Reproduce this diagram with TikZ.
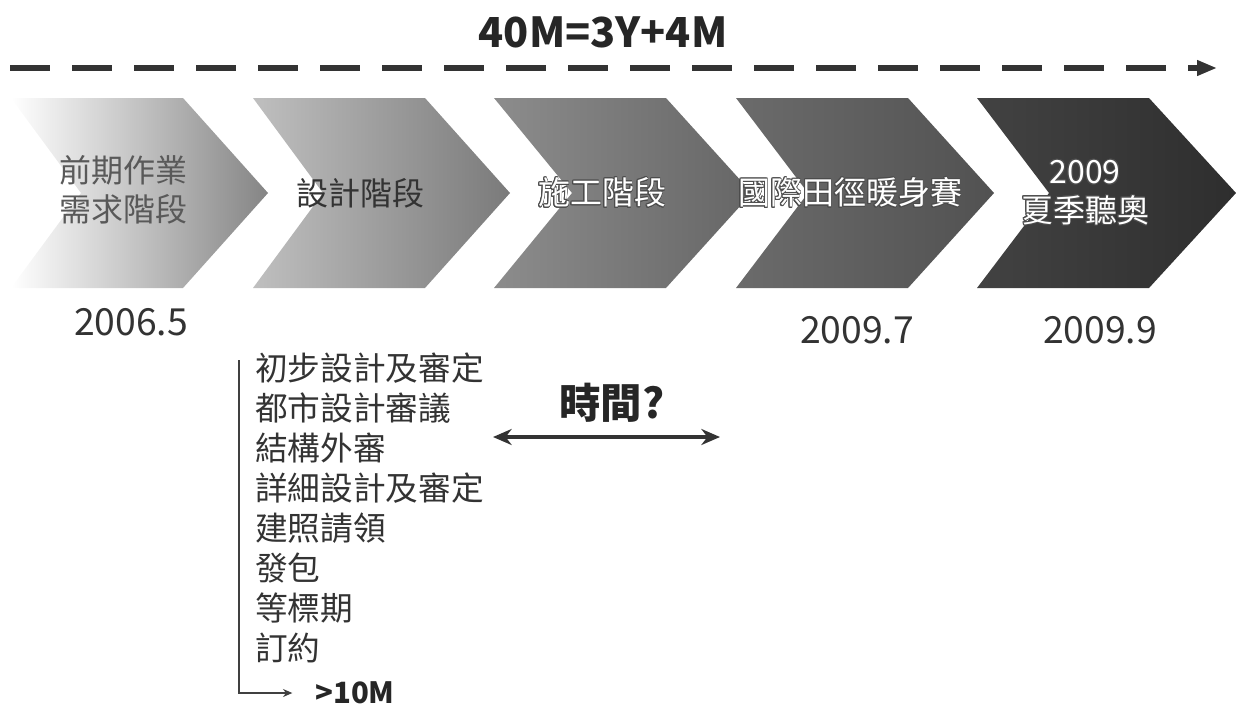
\documentclass[tikz,border=0pt]{standalone}
\usepackage{fontspec}
\usepackage{contour}
\newfontfamily\cjk{Noto Sans CJK TC}
\usetikzlibrary{arrows.meta}
\contourlength{0.7pt}

\begin{document}
\begin{tikzpicture}[x=0.75pt,y=-0.75pt,
	stagetxt/.style={font=\cjk\fontsize{24}{29}\selectfont, align=center, inner sep=0pt},
	datetxt/.style={font=\cjk\fontsize{28}{30}\selectfont, text=black!80, inner sep=0pt},
	itemtxt/.style={font=\cjk\fontsize{24.5}{30}\selectfont, text=black!80, anchor=west, inner sep=0pt}]

	\useasboundingbox (0,0) rectangle (1237,707);

	% total duration
	\node[font=\cjk\bfseries\fontsize{31}{34}\selectfont, text=black!85] (total) at (603,32) {40M=3Y+4M};

	\coordinate (tl0) at (10,68);
	\coordinate (tl1) at (1217,68);
	\draw[black!80, line width=4.5pt, dash pattern=on 30pt off 16.5pt, -{Triangle[length=15pt,width=11pt]}] (tl0) -- (tl1);

	% stages
	\shade[left color=white, right color=black!48]  (11,98) -- (183,98) -- (268,193) -- (183,288) -- (11,288) -- (81,193) -- cycle;
	\shade[left color=black!25, right color=black!52]  (253,98) -- (425,98) -- (510,193) -- (425,288) -- (253,288) -- (323,193) -- cycle;
	\shade[left color=black!45, right color=black!60]  (494,98) -- (666,98) -- (752,193) -- (666,288) -- (494,288) -- (572,193) -- cycle;
	\shade[left color=black!58, right color=black!68]  (736,98) -- (908,98) -- (994,193) -- (908,288) -- (736,288) -- (808,193) -- cycle;
	\shade[left color=black!74, right color=black!82]  (977,98) -- (1149,98) -- (1236,193) -- (1149,288) -- (977,288) -- (1049,193) -- cycle;

	\node[stagetxt, text=black!65] (s1) at (123,190) {前期作業\\需求階段};

	\node[stagetxt, text=black!80] (s2) at (360,193) {設計階段};

	\node[stagetxt, text=white] (s3) at (602,193) {\contour{black!70}{施工階段}};

	\node[stagetxt, text=white] (s4) at (850,193) {\contour{black!70}{國際田徑暖身賽}};

	\node[stagetxt, text=white] (s5) at (1085,193) {\contour{black!70}{2009}\\\contour{black!70}{夏季聽奧}};

	% dates
	\node[datetxt] (d1) at (131,322) {2006.5};

	\node[datetxt] (d4) at (857,330) {2009.7};

	\node[datetxt] (d5) at (1100,330) {2009.9};

	% design stage items
	\node[itemtxt] (i1) at (255,368) {初步設計及審定};
	\node[itemtxt] (i2) at (255,408) {都市設計審議};
	\node[itemtxt] (i3) at (255,448) {結構外審};
	\node[itemtxt] (i4) at (255,488) {詳細設計及審定};
	\node[itemtxt] (i5) at (255,528) {建照請領};
	\node[itemtxt] (i6) at (255,568) {發包};
	\node[itemtxt] (i7) at (255,608) {等標期};
	\node[itemtxt] (i8) at (255,648) {訂約};

	\node[font=\cjk\bfseries\fontsize{22}{24}\selectfont, text=black!85, anchor=west, inner sep=0pt] (more) at (315,693) {>10M};

	\coordinate (lt) at (239,360);
	\draw[black!75, line width=1.1pt, -{Stealth[length=7pt,width=6pt]}, shorten >=17pt] (lt) |- (more.west);

	% open question
	\node[font=\cjk\bfseries\fontsize{31}{34}\selectfont, text=black!85] (ask) at (612,403) {時間?};

	\coordinate (ta) at (493,437);
	\coordinate (tb) at (720,437);
	\draw[black!80, line width=3.5pt, {Stealth[length=14pt,width=12pt]}-{Stealth[length=14pt,width=12pt]}] (ta) -- (tb);
\end{tikzpicture}
\end{document}
